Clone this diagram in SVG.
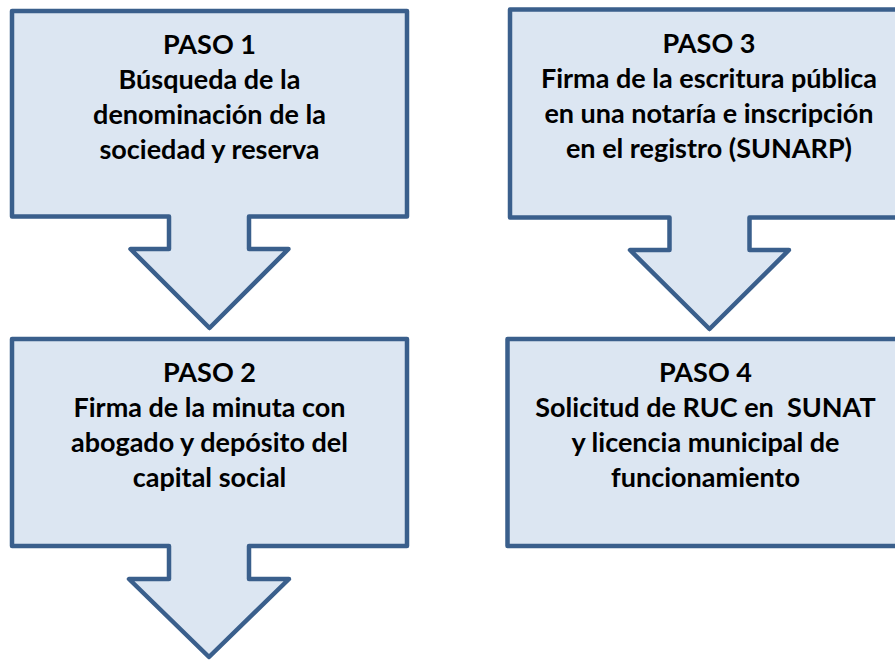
<svg xmlns="http://www.w3.org/2000/svg" width="895" height="663" viewBox="0 0 895 663">
<style>
.shape{fill:#DCE6F2;stroke:#3A5F8C;stroke-width:4.5;stroke-linejoin:round}
.t{font-family:Lato,"Liberation Sans",sans-serif;font-weight:bold;font-size:27px;fill:#000;text-anchor:middle;white-space:pre}
</style>
<rect width="895" height="663" fill="#ffffff"/>
<g id="paso1">
<path class="shape" d="M12,11 H407 V216.5 H249 V249 H288.5 L209.5,328 L130.5,249 H169 V216.5 H12 Z"/>
<text class="t" x="209.5" y="54">PASO 1</text>
<text class="t" x="209.5" y="89">Búsqueda de la</text>
<text class="t" x="209.5" y="124">denominación de la</text>
<text class="t" x="209.5" y="159">sociedad y reserva</text>
</g>
<g id="paso2">
<path class="shape" d="M12,339 H407 V546 H249 V579 H289 L209,657 L129,579 H169 V546 H12 Z"/>
<text class="t" x="209.5" y="382">PASO 2</text>
<text class="t" x="209.5" y="417">Firma de la minuta con</text>
<text class="t" x="209.5" y="452">abogado y depósito del</text>
<text class="t" x="209.5" y="487">capital social</text>
</g>
<g id="paso3">
<path class="shape" d="M510,9.5 H909 V217.5 H749.5 V250 H789 L709.5,329 L630,250 H669.5 V217.5 H510 Z"/>
<text class="t" x="709" y="53">PASO 3</text>
<text class="t" x="709" y="88">Firma de la escritura pública</text>
<text class="t" x="709" y="123">en una notaría e inscripción</text>
<text class="t" x="709" y="158">en el registro (SUNARP)</text>
</g>
<g id="paso4">
<rect class="shape" x="507.5" y="339" width="396" height="207"/>
<text class="t" x="705.5" y="382">PASO 4</text>
<text class="t" x="705.5" y="417" xml:space="preserve">Solicitud de RUC en  SUNAT</text>
<text class="t" x="705.5" y="452">y licencia municipal de</text>
<text class="t" x="705.5" y="487">funcionamiento</text>
</g>
<g id="connectors"></g>
</svg>
